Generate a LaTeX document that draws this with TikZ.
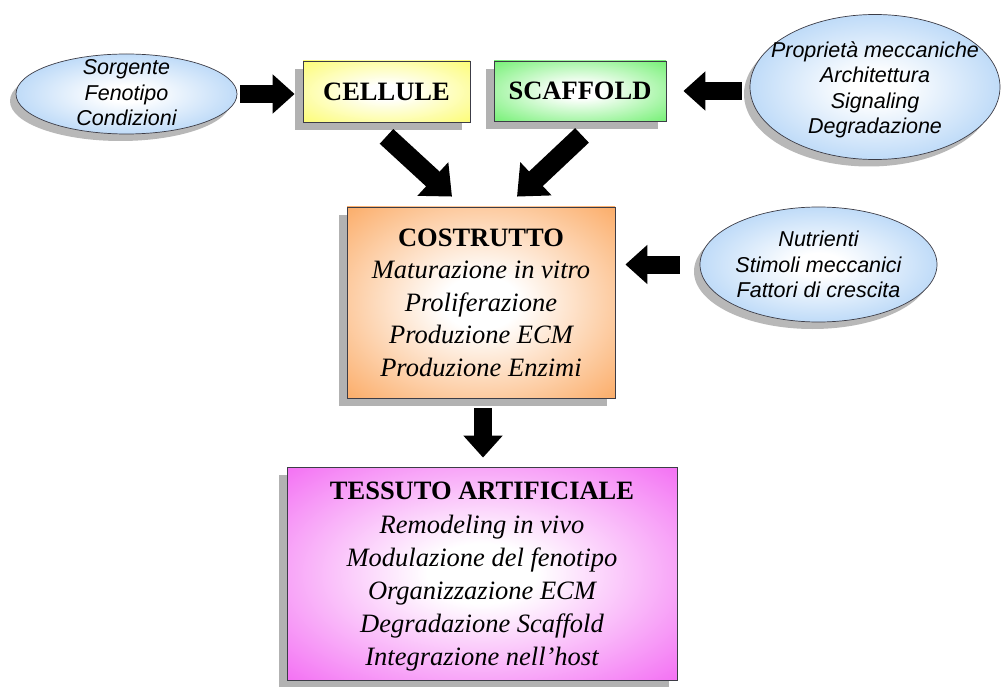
\documentclass[tikz,border=0pt]{standalone}
\usepackage{fontspec}
\setmainfont{Liberation Serif}
\newfontfamily\ellfont{Liberation Sans}
\usetikzlibrary{arrows.meta,shadows,shapes.geometric}
\definecolor{cYellow}{RGB}{252,252,96}
\definecolor{cGreen}{RGB}{96,238,96}
\definecolor{cOrange}{RGB}{250,148,60}
\definecolor{cMagenta}{RGB}{240,70,240}
\definecolor{cBlue}{RGB}{118,178,240}
\definecolor{cLine}{RGB}{60,60,70}
\pgfdeclareradialshading{shYellow}{\pgfpoint{0bp}{0bp}}{color(0bp)=(white); color(6bp)=(white); color(40bp)=(cYellow); color(72bp)=(cYellow)}
\pgfdeclareradialshading{shGreen}{\pgfpoint{0bp}{0bp}}{color(0bp)=(white); color(6bp)=(white); color(40bp)=(cGreen); color(72bp)=(cGreen)}
\pgfdeclareradialshading{shOrange}{\pgfpoint{0bp}{0bp}}{color(0bp)=(white); color(7bp)=(white); color(44bp)=(cOrange); color(72bp)=(cOrange)}
\pgfdeclareradialshading{shMagenta}{\pgfpoint{0bp}{0bp}}{color(0bp)=(white); color(7bp)=(white); color(44bp)=(cMagenta); color(72bp)=(cMagenta)}
\pgfdeclareradialshading{shBlue}{\pgfpoint{0bp}{0bp}}{color(0bp)=(white); color(5bp)=(white); color(48bp)=(cBlue); color(72bp)=(cBlue)}
\begin{document}
\begin{tikzpicture}[x=1pt,y=-1pt,
  boxnode/.style={rectangle, draw=cLine, line width=0.8pt, align=center, inner sep=0pt,
    font=\fontsize{26.5}{32.5}\selectfont\itshape,
    drop shadow={shadow xshift=-8pt, shadow yshift=-8pt, fill=black!30, opacity=1}},
  boxtext/.style={align=center, inner sep=0pt, font=\fontsize{26.5}{33.2}\selectfont\itshape},
  ellnode/.style={ellipse, draw=cLine, line width=0.7pt, inner sep=0pt, shading=shBlue,
    drop shadow={shadow xshift=-6pt, shadow yshift=-7pt, fill=black!28, opacity=1}},
  elltext/.style={align=center, inner sep=0pt, font=\ellfont\itshape\fontsize{21.5}{25.5}\selectfont},
  bigarrow/.style={black, line width=18pt, -{Triangle[length=22pt,width=38pt]}},
  diagarrow/.style={black, line width=20pt, -{Triangle[length=26pt,width=44pt]}}
]
\useasboundingbox[fill=white] (0,0) rectangle (1004,687);

\node[boxnode, shading=shYellow, minimum width=167pt, minimum height=61pt] (cellule) at (386.5,91.5) {\upshape\bfseries CELLULE};
\node[boxnode, shading=shGreen, minimum width=172pt, minimum height=60pt] (scaffold) at (580,91) {\upshape\bfseries SCAFFOLD};
\node[boxnode, shading=shOrange, minimum width=268pt, minimum height=191pt] (costrutto) at (481,302.5)
  {{\upshape\bfseries COSTRUTTO}\\Maturazione in vitro\\Proliferazione\\Produzione ECM\\Produzione Enzimi};
\node[boxnode, shading=shMagenta, minimum width=390pt, minimum height=213pt,
  label={[boxtext, yshift=-3.5pt]center:{\upshape\bfseries TESSUTO ARTIFICIALE}\\Remodeling in vivo\\Modulazione del fenotipo\\Organizzazione ECM\\Degradazione Scaffold\\Integrazione nell'host}] (tessuto) at (482,573.5) {};

\node[ellnode, minimum width=221pt, minimum height=80pt,
  label={[elltext, yshift=1pt]center:Sorgente\\Fenotipo\\Condizioni}] (e1) at (126.5,94) {};
\node[ellnode, minimum width=250pt, minimum height=145pt,
  label={[elltext, yshift=-3pt]center:Proprietà meccaniche\\Architettura\\Signaling\\Degradazione}] (e2) at (875,87) {};
\node[ellnode, minimum width=237pt, minimum height=115pt,
  label={[elltext]center:Nutrienti\\Stimoli meccanici\\Fattori di crescita}] (e3) at (818.5,264.5) {};

\draw[bigarrow, shorten <=3pt, shorten >=8pt] (e1.east) -- (e1.east -| cellule.west);
\draw[bigarrow, shorten <=8pt, shorten >=17pt] (scaffold.east -| e2.west) -- (scaffold.east);
\draw[bigarrow, shorten <=20pt, shorten >=10pt] (e3.west) -- (e3.west -| costrutto.east);
\draw[diagarrow] ([yshift=-14pt]cellule.south) -- ([xshift=-29pt,yshift=10pt]costrutto.north);
\draw[diagarrow] ([xshift=2pt,yshift=-14pt]scaffold.south) -- ([xshift=36pt,yshift=10pt]costrutto.north);
\draw[bigarrow, shorten <=10pt, shorten >=9pt] ([xshift=2pt]costrutto.south) -- ([xshift=1pt]tessuto.north);
\end{tikzpicture}
\end{document}
